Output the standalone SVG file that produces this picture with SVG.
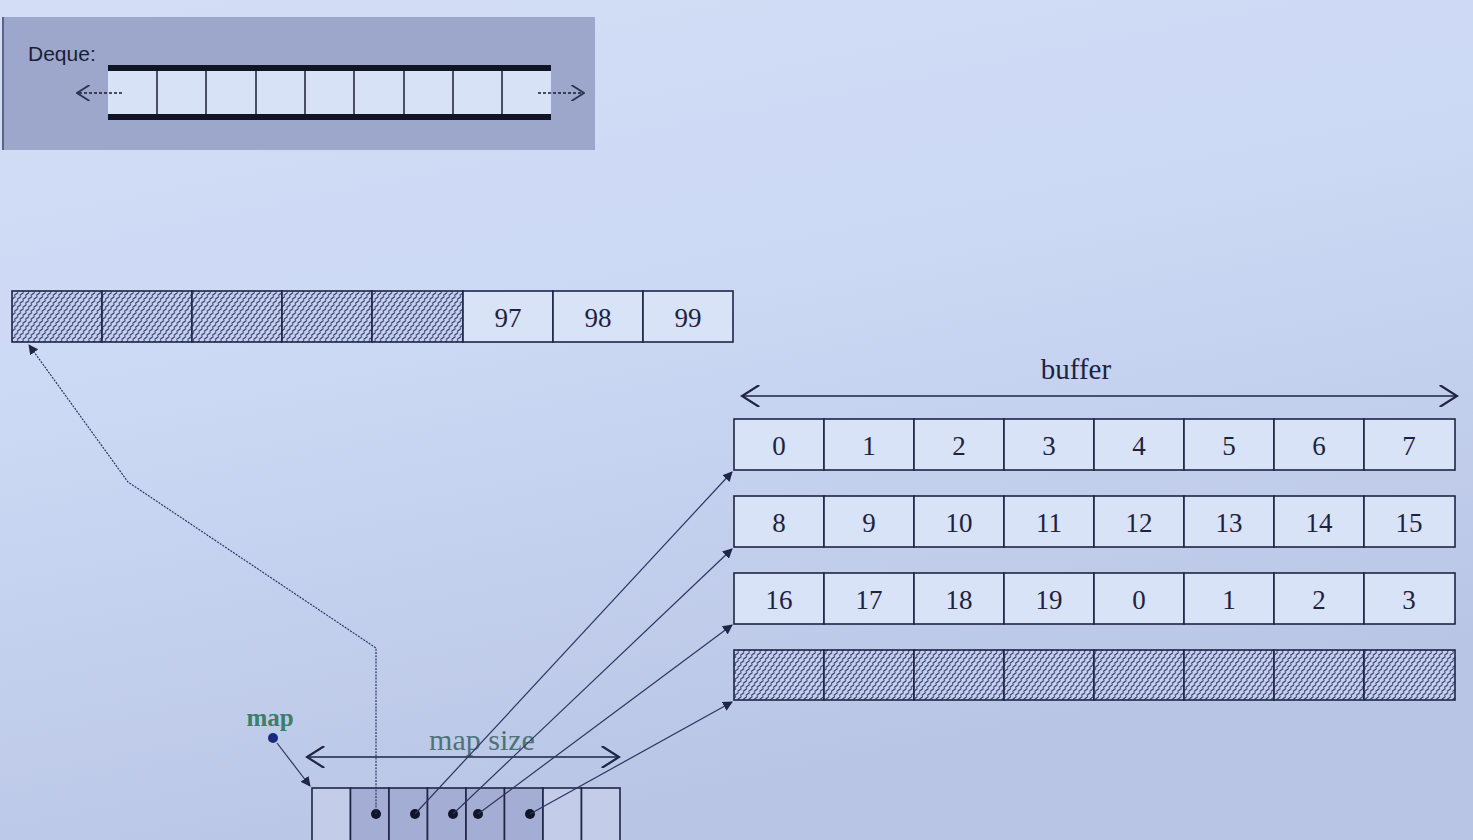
<svg xmlns="http://www.w3.org/2000/svg" width="1473" height="840" viewBox="0 0 1473 840">
<defs>
<linearGradient id="bg" x1="0" y1="0" x2="0.35" y2="1">
<stop offset="0" stop-color="#d3ddf5"/>
<stop offset="0.45" stop-color="#ccd9f5"/>
<stop offset="1" stop-color="#b9c5e4"/>
</linearGradient>
<pattern id="hatch" patternUnits="userSpaceOnUse" width="11" height="8">
<rect width="11" height="8" fill="#c5cfee"/>
<path d="M0.5,3.5 L4.5,0.5 M6,3.5 L10,0.5 M3.2,7.5 L7.2,4.5 M8.7,7.5 L12.7,4.5 M-2.3,7.5 L1.7,4.5" stroke="#3b4574" stroke-width="1.3" fill="none"/>
</pattern>
<marker id="tri" viewBox="0 0 10 10" refX="9" refY="5" markerWidth="10" markerHeight="10" markerUnits="userSpaceOnUse" orient="auto">
<path d="M0,0 L10,5 L0,10 z" fill="#1e2545"/>
</marker>
<marker id="open" viewBox="0 0 12 14" refX="11" refY="7" markerWidth="20" markerHeight="22" markerUnits="userSpaceOnUse" orient="auto-start-reverse">
<path d="M0,0 L11,7 L0,14" fill="none" stroke="#1e2545" stroke-width="1.4"/>
</marker>
<marker id="openSmall" viewBox="0 0 12 14" refX="11" refY="7" markerWidth="14" markerHeight="16" markerUnits="userSpaceOnUse" orient="auto">
<path d="M0,0 L11,7 L0,14" fill="none" stroke="#2a3050" stroke-width="1.6"/>
</marker>
</defs>
<style>
.cell{fill:#d8e3f8;stroke:#1e2545;stroke-width:1.6}
.hcell{fill:url(#hatch);stroke:#1e2545;stroke-width:1.6}
.num{font-family:"Liberation Serif","DejaVu Serif",serif;font-size:27px;fill:#1e2240;text-anchor:middle}
.conn{fill:none;stroke:#2c3560;stroke-width:1.2}
.dot{fill:#111528}
.mcell{stroke:#1e2545;stroke-width:1.6}
</style>
<rect width="1473" height="840" fill="url(#bg)"/>

<!-- Deque legend -->
<g id="deque-legend">
<rect x="2" y="17" width="593" height="133" fill="#9ca7cb"/>
<line x1="3" y1="17" x2="3" y2="150" stroke="#5a6488" stroke-width="2"/>
<text x="28" y="61" font-family="Liberation Sans,Arial,sans-serif" font-size="21" fill="#1a1e35">Deque:</text>
<rect x="108" y="70" width="443" height="46" fill="#d8e2f6"/>
<g stroke="#1a1e35" stroke-width="1.5">
<line x1="157" y1="70" x2="157" y2="116"/><line x1="206" y1="70" x2="206" y2="116"/>
<line x1="256" y1="70" x2="256" y2="116"/><line x1="305" y1="70" x2="305" y2="116"/>
<line x1="354" y1="70" x2="354" y2="116"/><line x1="404" y1="70" x2="404" y2="116"/>
<line x1="453" y1="70" x2="453" y2="116"/><line x1="502" y1="70" x2="502" y2="116"/>
</g>
<rect x="108" y="65" width="443" height="6" fill="#111424"/>
<rect x="108" y="114" width="443" height="6" fill="#111424"/>
<line x1="122" y1="93" x2="77" y2="93" stroke="#1a1e35" stroke-width="1.3" stroke-dasharray="3,2" marker-end="url(#openSmall)"/>
<line x1="538" y1="93" x2="584" y2="93" stroke="#1a1e35" stroke-width="1.3" stroke-dasharray="3,2" marker-end="url(#openSmall)"/>
</g>

<!-- Top block -->
<g id="block-top">
<rect class="hcell" x="12" y="291" width="90" height="51"/>
<rect class="hcell" x="102" y="291" width="90" height="51"/>
<rect class="hcell" x="192" y="291" width="90" height="51"/>
<rect class="hcell" x="282" y="291" width="90" height="51"/>
<rect class="hcell" x="372" y="291" width="91" height="51"/>
<rect class="cell" x="463" y="291" width="90" height="51"/>
<rect class="cell" x="553" y="291" width="90" height="51"/>
<rect class="cell" x="643" y="291" width="90" height="51"/>
<text class="num" x="508" y="327">97</text>
<text class="num" x="598" y="327">98</text>
<text class="num" x="688" y="327">99</text>
</g>

<!-- buffer label -->
<g id="buffer-label">
<text x="1076" y="379" font-family="Liberation Serif,serif" font-size="29" fill="#1e2240" text-anchor="middle">buffer</text>
<line x1="742" y1="396" x2="1457" y2="396" stroke="#1e2545" stroke-width="1.5" marker-start="url(#open)" marker-end="url(#open)"/>
</g>

<!-- Buffer rows -->
<g id="block-0">
<rect class="cell" x="734" y="419" width="90" height="51"/><rect class="cell" x="824" y="419" width="90" height="51"/>
<rect class="cell" x="914" y="419" width="90" height="51"/><rect class="cell" x="1004" y="419" width="90" height="51"/>
<rect class="cell" x="1094" y="419" width="90" height="51"/><rect class="cell" x="1184" y="419" width="90" height="51"/>
<rect class="cell" x="1274" y="419" width="90" height="51"/><rect class="cell" x="1364" y="419" width="91" height="51"/>
<text class="num" x="779" y="455">0</text><text class="num" x="869" y="455">1</text><text class="num" x="959" y="455">2</text><text class="num" x="1049" y="455">3</text>
<text class="num" x="1139" y="455">4</text><text class="num" x="1229" y="455">5</text><text class="num" x="1319" y="455">6</text><text class="num" x="1409" y="455">7</text>
</g>
<g id="block-1">
<rect class="cell" x="734" y="496" width="90" height="51"/><rect class="cell" x="824" y="496" width="90" height="51"/>
<rect class="cell" x="914" y="496" width="90" height="51"/><rect class="cell" x="1004" y="496" width="90" height="51"/>
<rect class="cell" x="1094" y="496" width="90" height="51"/><rect class="cell" x="1184" y="496" width="90" height="51"/>
<rect class="cell" x="1274" y="496" width="90" height="51"/><rect class="cell" x="1364" y="496" width="91" height="51"/>
<text class="num" x="779" y="532">8</text><text class="num" x="869" y="532">9</text><text class="num" x="959" y="532">10</text><text class="num" x="1049" y="532">11</text>
<text class="num" x="1139" y="532">12</text><text class="num" x="1229" y="532">13</text><text class="num" x="1319" y="532">14</text><text class="num" x="1409" y="532">15</text>
</g>
<g id="block-2">
<rect class="cell" x="734" y="573" width="90" height="51"/><rect class="cell" x="824" y="573" width="90" height="51"/>
<rect class="cell" x="914" y="573" width="90" height="51"/><rect class="cell" x="1004" y="573" width="90" height="51"/>
<rect class="cell" x="1094" y="573" width="90" height="51"/><rect class="cell" x="1184" y="573" width="90" height="51"/>
<rect class="cell" x="1274" y="573" width="90" height="51"/><rect class="cell" x="1364" y="573" width="91" height="51"/>
<text class="num" x="779" y="609">16</text><text class="num" x="869" y="609">17</text><text class="num" x="959" y="609">18</text><text class="num" x="1049" y="609">19</text>
<text class="num" x="1139" y="609">0</text><text class="num" x="1229" y="609">1</text><text class="num" x="1319" y="609">2</text><text class="num" x="1409" y="609">3</text>
</g>
<g id="block-3">
<rect class="hcell" x="734" y="650" width="90" height="50"/><rect class="hcell" x="824" y="650" width="90" height="50"/>
<rect class="hcell" x="914" y="650" width="90" height="50"/><rect class="hcell" x="1004" y="650" width="90" height="50"/>
<rect class="hcell" x="1094" y="650" width="90" height="50"/><rect class="hcell" x="1184" y="650" width="90" height="50"/>
<rect class="hcell" x="1274" y="650" width="90" height="50"/><rect class="hcell" x="1364" y="650" width="91" height="50"/>
</g>

<!-- map pointer -->
<g id="map-pointer">
<text x="270" y="726" font-family="Liberation Serif,serif" font-size="25" font-weight="bold" fill="#3e7d68" text-anchor="middle">map</text>
<circle cx="273" cy="738" r="5" fill="#1a2a80"/>
</g>

<!-- map size label -->
<g id="map-size-label">
<text x="482" y="750" font-family="Liberation Serif,serif" font-size="30" fill="#4d7377" text-anchor="middle">map  size</text>
<line x1="307" y1="757" x2="619" y2="757" stroke="#1e2545" stroke-width="1.5" marker-start="url(#open)" marker-end="url(#open)"/>
</g>

<!-- map array -->
<g id="map-array">
<rect class="mcell" x="312" y="788" width="38.5" height="60" fill="#c3cdea"/>
<rect class="mcell" x="350.5" y="788" width="38.5" height="60" fill="#a4aed4"/>
<rect class="mcell" x="389" y="788" width="38.5" height="60" fill="#a4aed4"/>
<rect class="mcell" x="427.5" y="788" width="38.5" height="60" fill="#a4aed4"/>
<rect class="mcell" x="466" y="788" width="38.5" height="60" fill="#a4aed4"/>
<rect class="mcell" x="504.5" y="788" width="38.5" height="60" fill="#a4aed4"/>
<rect class="mcell" x="543" y="788" width="38.5" height="60" fill="#c3cdea"/>
<rect class="mcell" x="581.5" y="788" width="38.5" height="60" fill="#c3cdea"/>
<circle class="dot" cx="376" cy="814" r="5"/>
<circle class="dot" cx="415" cy="814" r="5"/>
<circle class="dot" cx="453" cy="814" r="5"/>
<circle class="dot" cx="478" cy="814" r="5"/>
<circle class="dot" cx="530" cy="814" r="5"/>
</g>

<!-- connectors -->
<g id="connectors">
<line class="conn" x1="277" y1="743" x2="310" y2="786" stroke-width="1.6" marker-end="url(#tri)"/>
<polyline class="conn" points="376,814 376,648 128,482 29,345" stroke-dasharray="2,1.2" marker-end="url(#tri)"/>
<line class="conn" x1="415" y1="814" x2="732" y2="472" marker-end="url(#tri)"/>
<line class="conn" x1="453" y1="814" x2="732" y2="549" marker-end="url(#tri)"/>
<line class="conn" x1="478" y1="814" x2="732" y2="625" marker-end="url(#tri)"/>
<line class="conn" x1="530" y1="814" x2="732" y2="702" marker-end="url(#tri)"/>
</g>
</svg>
